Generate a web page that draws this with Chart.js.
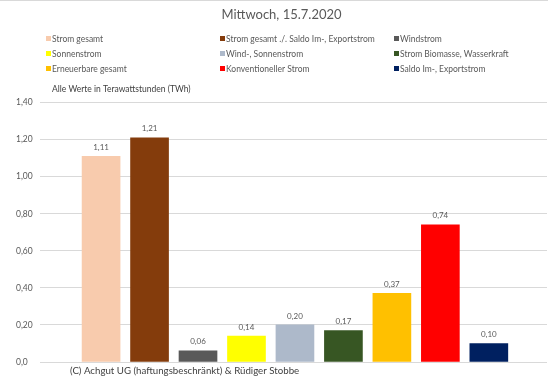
<!DOCTYPE html>
<html>
<head>
<meta charset="utf-8">
<script src="https://cdn.jsdelivr.net/npm/chart.js@4/dist/chart.umd.min.js"></script>
<style>
    html, body { margin: 0; padding: 0; background: #fff; }
    #wrap { position: relative; width: 548px; height: 385px; border-top: 1px solid #d9d9d9; box-sizing: border-box; }
</style>
</head>
<body>
<div id="wrap"><canvas id="chart" width="548" height="384"></canvas></div>
<script>
const TITLE = "Mittwoch, 15.7.2020";
const UNIT_NOTE = "Alle Werte in Terawattstunden (TWh)";
const COPYRIGHT = "(C) Achgut UG (haftungsbeschränkt) & Rüdiger Stobbe";

const categories = [
    "Strom gesamt",
    "Strom gesamt ./. Saldo Im-, Exportstrom",
    "Windstrom",
    "Sonnenstrom",
    "Wind-, Sonnenstrom",
    "Strom Biomasse, Wasserkraft",
    "Erneuerbare gesamt",
    "Konventioneller Strom",
    "Saldo Im-, Exportstrom"
];
const values = [1.11, 1.21, 0.06, 0.14, 0.20, 0.17, 0.37, 0.74, 0.10];
const colors = ["#F8CBAD", "#843C0C", "#595959", "#FFFF00", "#ADB9CA", "#375623", "#FFC000", "#FF0000", "#002060"];
const yTicks = [0, 0.2, 0.4, 0.6, 0.8, 1.0, 1.2, 1.4];

const FONT = "Lato, 'Open Sans', sans-serif";

function fmt(v, digits) {
    return v.toFixed(digits).replace(".", ",");
}

// legend in three columns, drawn like the Excel original
const gridLegend = {
    id: "gridLegend",
    afterDraw(chart) {
        const ctx = chart.ctx;
        const colX = [46, 220, 394];
        const rowY = [38, 53, 68];
        ctx.save();
        ctx.font = "8.5px " + FONT;
        ctx.textBaseline = "middle";
        ctx.textAlign = "left";
        categories.forEach((name, i) => {
            // order is row-wise: 3 items per row
            const x = colX[i % 3];
            const y = rowY[Math.floor(i / 3)];
            ctx.fillStyle = colors[i];
            ctx.fillRect(x, y - 3, 5, 5);
            ctx.fillStyle = "#595959";
            ctx.fillText(name, x + 6, y);
        });
        ctx.fillStyle = "#404040";
        ctx.fillText(UNIT_NOTE, 52, 88);
        ctx.font = "9.7px " + FONT;
        ctx.fillText(COPYRIGHT, 70, 370);
        ctx.restore();
    }
};

// value labels above the bars
const valueLabels = {
    id: "valueLabels",
    afterDatasetsDraw(chart) {
        const ctx = chart.ctx;
        const meta = chart.getDatasetMeta(0);
        ctx.save();
        ctx.font = "8px " + FONT;
        ctx.fillStyle = "#595959";
        ctx.textAlign = "center";
        ctx.textBaseline = "bottom";
        meta.data.forEach((bar, i) => {
            ctx.fillText(fmt(values[i], 2), bar.x, bar.y - 5);
        });
        ctx.restore();
    }
};

const ctx = document.getElementById("chart").getContext("2d");
new Chart(ctx, {
    type: "bar",
    data: {
        labels: categories,
        datasets: [{
            data: values.map((v, i) => ({ x: i + 1, y: v })),
            backgroundColor: colors,
            borderWidth: 0,
            barThickness: 38
        }]
    },
    options: {
        responsive: false,
        animation: false,
        layout: { padding: { left: 16, right: 1, top: 0, bottom: 15 } },
        plugins: {
            legend: { display: false },
            tooltip: { enabled: false },
            title: {
                display: true,
                text: TITLE,
                color: "#595959",
                font: { family: FONT, size: 13, weight: "normal" },
                padding: { top: 6, bottom: 80 }
            }
        },
        scales: {
            x: {
                type: "linear",
                min: -0.26,
                max: 10.2,
                offset: false,
                grid: { display: false },
                border: { display: false },
                ticks: { display: false }
            },
            y: {
                min: 0,
                max: 1.4,
                afterFit(scale) { scale.width = 24; },
                afterBuildTicks(scale) {
                    scale.ticks = yTicks.map(v => ({ value: v }));
                },
                ticks: {
                    crossAlign: "far",
                    padding: 0,
                    color: "#595959",
                    font: { family: FONT, size: 8.5 },
                    callback: v => v === 0 ? "0,0" : fmt(v, 2)
                },
                grid: { color: "#d9d9d9", drawTicks: false },
                border: { display: false }
            }
        }
    },
    plugins: [gridLegend, valueLabels]
});
</script>
</body>
</html>
